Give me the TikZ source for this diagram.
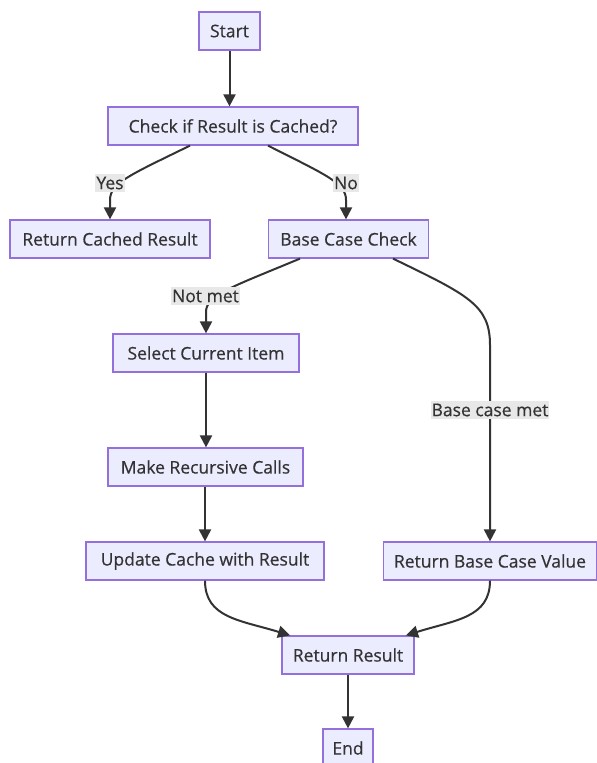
\documentclass[tikz,border=0pt]{standalone}
\usepackage{fontspec}
\setmainfont{Open Sans}
\newfontfamily\flowfont{Open Sans}[FakeBold=0.5]
\usetikzlibrary{arrows.meta}
\definecolor{boxfill}{HTML}{ECECFF}
\definecolor{boxline}{HTML}{9370DB}
\definecolor{edgecol}{HTML}{333333}
\definecolor{lblbg}{HTML}{E8E8E8}
\tikzset{
  stepbox/.style={draw=boxline, fill=boxfill, line width=1.2pt, minimum height=38pt,
    inner sep=0pt, font=\flowfont\fontsize{17.5}{20}\selectfont, text=edgecol},
  edgelbl/.style={fill=lblbg, inner xsep=1pt, inner ysep=0pt, minimum height=18pt,
    font=\flowfont\fontsize{17.5}{20}\selectfont, text=edgecol},
  flow/.style={draw=edgecol, line width=2pt, -{Triangle[length=12pt,width=12pt]}}
}
\begin{document}
\begin{tikzpicture}[x=1pt,y=-1pt]
\useasboundingbox (0,0) rectangle (597,763);

% process steps
\node[stepbox, minimum width=61pt]  (start)  at (229.5,31) {Start};
\node[stepbox, minimum width=250pt] (check)  at (233,126)  {Check if Result is Cached?};
\node[stepbox, minimum width=200pt] (cached) at (110,239)  {Return Cached Result};
\node[stepbox, minimum width=160pt] (base)   at (348.5,239) {Base Case Check};
\node[stepbox, minimum width=186pt] (select) at (206,353)  {Select Current Item};
\node[stepbox, minimum width=195pt] (recur)  at (205.5,467) {Make Recursive Calls};
\node[stepbox, minimum width=238pt] (update) at (205,561)  {Update Cache with Result};
\node[stepbox, minimum width=213pt] (baseval) at (490,561) {Return Base Case Value};
\node[stepbox, minimum width=132pt] (result) at (348,655)  {Return Result};
\node[stepbox, minimum width=50pt]  (end)    at (348,748)  {End};

% connectors
\draw[flow] (start.south -| 229.5,0) -- (check.north -| 229.5,0);
\draw[flow] (check.south -| 190,0) .. controls (130,175) and (110,183) .. (110,200) -- (cached.north);
\draw[flow] (check.south -| 268,0) .. controls (326,175) and (346,183) .. (346,200) -- (base.north -| 346,0);
\draw[flow] (base.south -| 300,0) .. controls (232,287) and (206,295) .. (206,312) -- (select.north);
\draw[flow] (base.south -| 393,0) .. controls (468,295) and (490,305) .. (490,345) -- (baseval.north);
\draw[flow] (select.south -| 206,0) -- (recur.north -| 206,0);
\draw[flow] (recur.south -| 205,0) -- (update.north);
\draw[flow] (update.south) .. controls (205,618) and (240,620) .. (result.north -| 290,0);
\draw[flow] (baseval.south) .. controls (490,618) and (455,620) .. (result.north -| 406,0);
\draw[flow] (result.south) -- (end.north);

% edge labels
\node[edgelbl] (lyes)  at (110,183) {Yes};
\node[edgelbl] (lno)   at (346,183) {No};
\node[edgelbl] (lnot)  at (205.5,296) {Not met};
\node[edgelbl] (lmet)  at (490,410) {Base case met};
\end{tikzpicture}
\end{document}
